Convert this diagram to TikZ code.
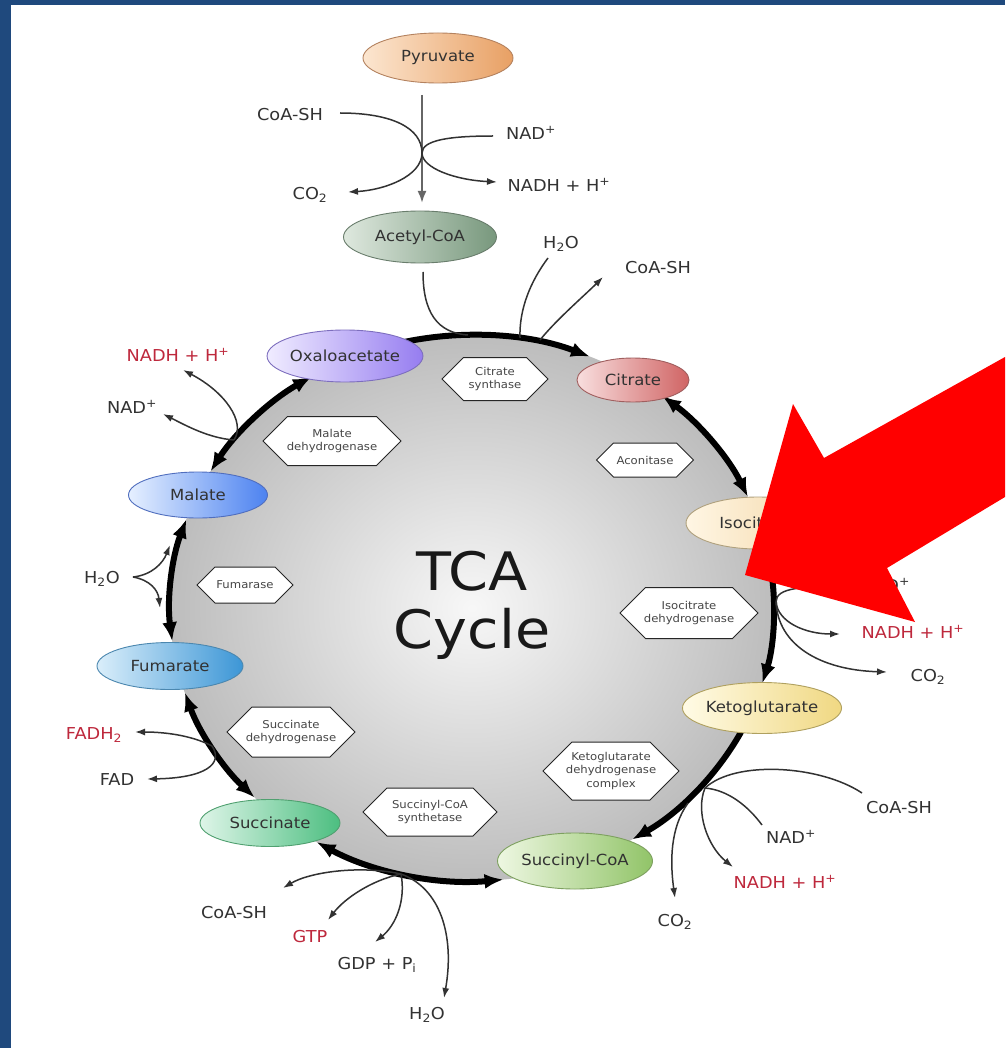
\documentclass[tikz,border=0pt]{standalone}
\usepackage{fontspec}
\setmainfont{DejaVu Sans}[FakeStretch=1.08]
\usetikzlibrary{arrows.meta,shapes.geometric,calc}
\definecolor{frameblue}{RGB}{31,73,125}
\definecolor{txt}{RGB}{50,50,50}
\definecolor{redtxt}{RGB}{190,40,60}
\definecolor{enzt}{RGB}{70,70,70}
\definecolor{pyrL}{RGB}{252,230,208}\definecolor{pyrR}{RGB}{232,160,100}\definecolor{pyrB}{RGB}{180,130,95}
\definecolor{acoL}{RGB}{222,232,222}\definecolor{acoR}{RGB}{120,152,125}\definecolor{acoB}{RGB}{105,125,108}
\definecolor{oxaL}{RGB}{240,236,255}\definecolor{oxaR}{RGB}{150,125,240}\definecolor{oxaB}{RGB}{125,110,190}
\definecolor{citL}{RGB}{248,222,222}\definecolor{citR}{RGB}{208,100,100}\definecolor{citB}{RGB}{160,95,95}
\definecolor{isoL}{RGB}{255,246,228}\definecolor{isoR}{RGB}{243,214,165}\definecolor{isoB}{RGB}{175,160,125}
\definecolor{kgL}{RGB}{255,251,230}\definecolor{kgR}{RGB}{240,216,130}\definecolor{kgB}{RGB}{175,160,95}
\definecolor{scaL}{RGB}{238,247,226}\definecolor{scaR}{RGB}{145,196,104}\definecolor{scaB}{RGB}{125,160,95}
\definecolor{sucL}{RGB}{222,245,232}\definecolor{sucR}{RGB}{76,190,128}\definecolor{sucB}{RGB}{80,160,112}
\definecolor{fumL}{RGB}{218,238,250}\definecolor{fumR}{RGB}{60,150,214}\definecolor{fumB}{RGB}{75,135,175}
\definecolor{malL}{RGB}{230,240,255}\definecolor{malR}{RGB}{76,130,240}\definecolor{malB}{RGB}{80,110,190}
\newcommand{\metfont}{\fontsize{15.3}{18}\selectfont}
\newcommand{\lblfont}{\fontsize{16.4}{19}\selectfont}
\newcommand{\enzfont}{\fontsize{10.8}{13.2}\selectfont}
\newcommand{\tcafont}{\fontsize{53}{58}\selectfont}
\newcommand{\enz}[6]{%
  \pgfmathsetmacro{\ew}{#4/2}\pgfmathsetmacro{\eh}{#5/2}\pgfmathsetmacro{\ei}{#4/2-0.5*#5}%
  \draw[enzbox] ({#2-\ew},#3) -- ({#2-\ei},{#3-\eh}) -- ({#2+\ei},{#3-\eh}) -- ({#2+\ew},#3) -- ({#2+\ei},{#3+\eh}) -- ({#2-\ei},{#3+\eh}) -- cycle;
  \node[enztext] (#1) at (#2,#3) {#6};}
\tikzset{tipL/.tip={Latex[length=19pt,width=15pt]}}
\begin{document}
\begin{tikzpicture}[x=1pt,y=-1pt,
  met/.style={ellipse, draw, line width=0.9pt, inner sep=0pt, font=\metfont, text=txt},
  enztext/.style={font=\enzfont, align=center, text=enzt, inner sep=0pt},
  enzbox/.style={draw=black!85, fill=white, line width=1pt},
  lbl/.style={font=\lblfont, text=txt, inner sep=1pt},
  rlbl/.style={lbl, text=redtxt},
  side/.style={draw=txt, line width=1.5pt},
  sidearr/.style={side, -{Latex[length=10pt,width=7pt]}},
  pyrarr/.style={draw=black!60, line width=2.2pt, -{Latex[length=12pt,width=9pt]}},
  cyc/.style={draw=black, line width=6pt}
]
\useasboundingbox (0,0) rectangle (1005,1048);
\fill[white] (0,0) rectangle (1005,1048);
\fill[frameblue] (0,0) rectangle (1005,5);
\fill[frameblue] (0,0) rectangle (11,1048);

% cycle disc
\shade[inner color=black!3, outer color=black!26] (472,608) ellipse[x radius=302, y radius=273];

% cycle arcs (math angle t -> start angle -t)
\coordinate (o1) at ({472+302*cos(103)},{608-273*sin(103)});
\draw[cyc, -tipL] (o1) arc[start angle=-103, end angle=-67, x radius=302, y radius=273];
\coordinate (o2) at ({472+302*cos(51)},{608-273*sin(51)});
\draw[cyc, tipL-tipL] (o2) arc[start angle=-51, end angle=-24, x radius=302, y radius=273];
\coordinate (o3) at ({472+302*cos(6)},{608-273*sin(6)});
\draw[cyc, -tipL] (o3) arc[start angle=-6, end angle=16, x radius=302, y radius=273];
\coordinate (o4) at ({472+302*cos(-27)},{608-273*sin(-27)});
\draw[cyc, -tipL] (o4) arc[start angle=27, end angle=58, x radius=302, y radius=273];
\coordinate (o5) at ({472+302*cos(-84)},{608-273*sin(-84)});
\draw[cyc, tipL-tipL] (o5) arc[start angle=84, end angle=121, x radius=302, y radius=273];
\coordinate (o6) at ({472+302*cos(-136)},{608-273*sin(-136)});
\draw[cyc, tipL-tipL] (o6) arc[start angle=136, end angle=162, x radius=302, y radius=273];
\coordinate (o7) at ({472+302*cos(187)},{608-273*sin(187)});
\draw[cyc, tipL-tipL] (o7) arc[start angle=-187, end angle=-161, x radius=302, y radius=273];
\coordinate (o8) at ({472+302*cos(150)},{608-273*sin(150)});
\draw[cyc, tipL-tipL] (o8) arc[start angle=-150, end angle=-122, x radius=302, y radius=273];

% pyruvate -> acetyl-CoA
\coordinate (v1) at (422,95); \coordinate (v2) at (422,203);
\draw[pyrarr] (v1) -- (v2);
\coordinate (x1) at (422,153);
\coordinate (c1s) at (340,113); \coordinate (c1e) at (348,192);
\draw[sidearr] (c1s) .. controls (392,113) and (422,128) .. (x1) .. controls (422,176) and (385,190) .. (c1e);
\coordinate (n1s) at (493,136); \coordinate (n1e) at (497,182);
\draw[sidearr] (n1s) .. controls (450,136) and (422,140) .. (x1) .. controls (422,168) and (455,180) .. (n1e);

% acetyl-CoA into cycle, citrate synthase
\coordinate (a1s) at (423,272); \coordinate (a1e) at (468,335);
\draw[side] (a1s) .. controls (423,312) and (437,333) .. (a1e);
\coordinate (h1s) at (548,258); \coordinate (h1e) at (520,338);
\draw[side] (h1s) .. controls (530,282) and (519,310) .. (h1e);
\coordinate (c2s) at (540,340); \coordinate (c2e) at (603,277);
\draw[sidearr] (c2s) .. controls (556,320) and (585,295) .. (c2e);

% malate dehydrogenase side
\coordinate (m1) at (234,440); \coordinate (m1a) at (183,370); \coordinate (m1b) at (163,414);
\draw[sidearr] (m1) .. controls (246,422) and (225,392) .. (m1a);
\draw[sidearr] (m1) .. controls (208,438) and (185,425) .. (m1b);

% fumarase water
\coordinate (w1) at (133,577); \coordinate (w1a) at (170,545); \coordinate (w1b) at (160,608);
\draw[sidearr] (w1) .. controls (152,575) and (163,563) .. (w1a);
\draw[sidearr] (w1) .. controls (150,580) and (158,590) .. (w1b);

% succinate dehydrogenase
\coordinate (f1) at (212,746); \coordinate (f1a) at (135,732); \coordinate (f1b) at (147,779);
\draw[sidearr] (f1) .. controls (195,737) and (170,732) .. (f1a);
\draw[sidearr] (f1) .. controls (224,764) and (205,778) .. (f1b);

% succinyl-CoA synthetase
\coordinate (s1) at (401,874);
\coordinate (s1a) at (283,888); \coordinate (s1b) at (328,920); \coordinate (s1c) at (375,942); \coordinate (s1d) at (444,998);
\draw[sidearr] (s1) .. controls (360,865) and (310,872) .. (s1a);
\draw[sidearr] (s1) .. controls (372,880) and (345,898) .. (s1b);
\draw[sidearr] (s1) .. controls (406,900) and (396,925) .. (s1c);
\draw[sidearr] (s1) .. controls (440,888) and (455,935) .. (s1d);

% isocitrate dehydrogenase
\coordinate (r1) at (776,602); \coordinate (r1s) at (858,588);
\coordinate (r1a) at (840,634); \coordinate (r1b) at (887,672);
\draw[side] (r1s) .. controls (800,585) and (776,588) .. (r1);
\draw[sidearr] (r1) .. controls (778,622) and (805,634) .. (r1a);
\draw[sidearr] (r1) .. controls (778,645) and (820,670) .. (r1b);

% ketoglutarate dehydrogenase
\coordinate (k1) at (705,788); \coordinate (k2) at (688,803);
\coordinate (k1s) at (862,793); \coordinate (k1t) at (762,825);
\coordinate (k1a) at (733,867); \coordinate (k2a) at (675,898);
\draw[side] (k1s) .. controls (820,765) and (735,760) .. (k1);
\draw[side] (k1t) .. controls (748,806) and (728,790) .. (k1);
\draw[sidearr] (k1) .. controls (695,812) and (708,847) .. (k1a);
\draw[sidearr] (k2) .. controls (670,828) and (670,862) .. (k2a);

% metabolites
\node[met, minimum width=150pt, minimum height=50pt, left color=pyrL, right color=pyrR, draw=pyrB] (pyr) at (438,58) {Pyruvate};
\node[met, minimum width=153pt, minimum height=52pt, left color=acoL, right color=acoR, draw=acoB] (acoa) at (420,237) {Acetyl-CoA};
\node[met, minimum width=150pt, minimum height=52pt, left color=oxaL, right color=oxaR, draw=oxaB] (oxa) at (345,356) {Oxaloacetate};
\node[met, minimum width=112pt, minimum height=44pt, left color=citL, right color=citR, draw=citB] (cit) at (633,380) {Citrate};
\node[met, minimum width=144pt, minimum height=52pt, left color=isoL, right color=isoR, draw=isoB] (iso) at (758,523) {Isocitrate};
\node[met, minimum width=147pt, minimum height=51pt, left color=kgL, right color=kgR, draw=kgB] (kg) at (762,708) {Ketoglutarate};
\node[met, minimum width=155pt, minimum height=56pt, left color=scaL, right color=scaR, draw=scaB] (sca) at (575,861) {Succinyl-CoA};
\node[met, minimum width=140pt, minimum height=47pt, left color=sucL, right color=sucR, draw=sucB] (suc) at (270,823) {Succinate};
\node[met, minimum width=146pt, minimum height=47pt, left color=fumL, right color=fumR, draw=fumB] (fum) at (170,666) {Fumarate};
\node[met, minimum width=139pt, minimum height=46pt, left color=malL, right color=malR, draw=malB] (mal) at (198,495) {Malate};

% enzymes
\enz{cs}{495}{379}{106}{43}{Citrate\\synthase}
\enz{acon}{645}{460}{97}{34}{Aconitase}
\enz{mdh}{332}{441}{138}{49}{Malate\\dehydrogenase}
\enz{fumase}{245}{585}{96}{36}{Fumarase}
\enz{idh}{689}{613}{138}{51}{Isocitrate\\dehydrogenase}
\enz{sdh}{291}{732}{128}{50}{Succinate\\dehydrogenase}
\enz{scs}{430}{812}{134}{48}{Succinyl-CoA\\synthetase}
\enz{kgdh}{611}{771}{136}{58}{Ketoglutarate\\dehydrogenase\\complex}

% centre title
\node[font=\tcafont, align=center, text=black!90, inner sep=0pt] (tca) at (472,605) {TCA\\Cycle};

% side labels
\node[lbl] (coa1) at (290,115) {CoA-SH};
\node[lbl] (co2a) at (310,195) {CO\textsubscript{2}};
\node[lbl] (nad1) at (531,133) {NAD\textsuperscript{+}};
\node[lbl] (nadh1) at (559,185) {NADH + H\textsuperscript{+}};
\node[lbl] (h2o1) at (561,244) {H\textsubscript{2}O};
\node[lbl] (coa2) at (658,268) {CoA-SH};
\node[rlbl] (nadh2) at (178,355) {NADH + H\textsuperscript{+}};
\node[lbl] (nad2) at (132,407) {NAD\textsuperscript{+}};
\node[lbl] (h2o2) at (102,579) {H\textsubscript{2}O};
\node[rlbl] (fadh2) at (94,735) {FADH\textsubscript{2}};
\node[lbl] (fad) at (117,780) {FAD};
\node[lbl] (coa3) at (234,913) {CoA-SH};
\node[rlbl] (gtp) at (310,937) {GTP};
\node[lbl] (gdp) at (377,965) {GDP + P\textsubscript{i}};
\node[lbl] (h2o3) at (427,1015) {H\textsubscript{2}O};
\node[lbl] (nad3) at (885,585) {NAD\textsuperscript{+}};
\node[rlbl] (nadh3) at (913,632) {NADH + H\textsuperscript{+}};
\node[lbl] (co2c) at (928,677) {CO\textsubscript{2}};
\node[lbl] (coa4) at (899,808) {CoA-SH};
\node[lbl] (nad4) at (791,837) {NAD\textsuperscript{+}};
\node[rlbl] (nadh4) at (785,882) {NADH + H\textsuperscript{+}};
\node[lbl] (co2d) at (675,922) {CO\textsubscript{2}};

% red pointer arrow
\fill[red] (745,575) -- (793,404) -- (824,458) -- (1005,357) -- (1005,497) -- (887,568) -- (915,622) -- cycle;
\end{tikzpicture}
\end{document}
